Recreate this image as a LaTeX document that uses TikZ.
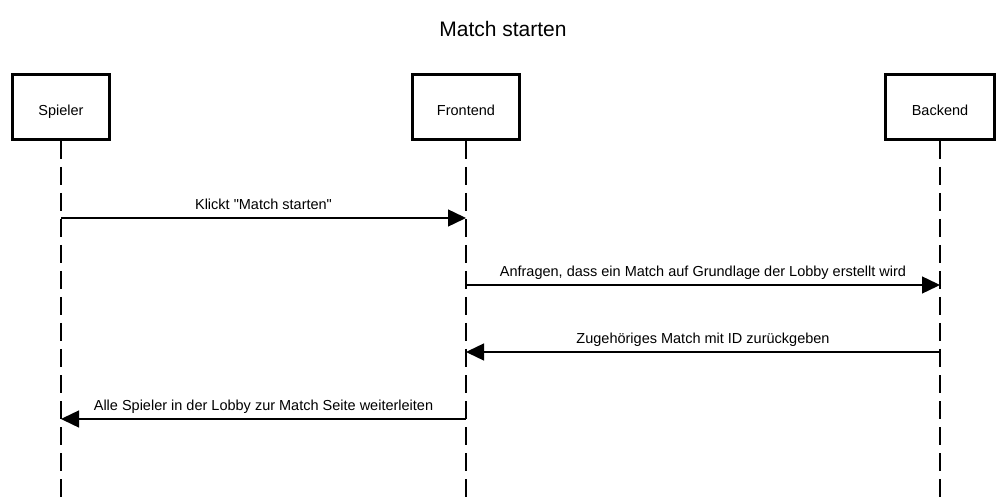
\documentclass[tikz,border=0pt]{standalone}
\usepackage{fontspec}
\setmainfont{Liberation Sans}[Ligatures=TeXOff]
\usetikzlibrary{arrows.meta}
\begin{document}
\begin{tikzpicture}[x=1pt,y=-1pt,
  actor/.style={draw,line width=3pt,minimum height=65pt,inner sep=0pt,text height=18pt,text depth=0pt,font=\fontsize{14.5}{17}\selectfont},
  lifeline/.style={line width=1.6pt,dash pattern=on 18pt off 8pt},
  msg/.style={line width=1.4pt,-{Triangle[length=18pt,width=17pt]}},
  lbl/.style={font=\fontsize{14.5}{17}\selectfont,inner sep=0pt,anchor=base}]
\useasboundingbox (0,0) rectangle (1006,502);
\node[font=\fontsize{21}{24}\selectfont] (title) at (503,29) {Match starten};
\node[actor,minimum width=97pt] (sp) at (61,107) {Spieler};
\node[actor,minimum width=107pt] (fe) at (466,107) {Frontend};
\node[actor,minimum width=109pt] (be) at (940,107) {Backend};
\coordinate (spE) at (61,502);
\coordinate (feE) at (466,502);
\coordinate (beE) at (940,502);
\draw[lifeline] (sp.south) -- (spE);
\draw[lifeline] (fe.south) -- (feE);
\draw[lifeline] (be.south) -- (beE);
\coordinate (s1) at (61,218); \coordinate (f1) at (466,218);
\coordinate (f2) at (466,285); \coordinate (b2) at (940,285);
\coordinate (b3) at (940,352); \coordinate (f3) at (466,352);
\coordinate (f4) at (466,419); \coordinate (s4) at (61,419);
\draw[msg] (s1) -- node[lbl,yshift=8.5pt] {Klickt "Match starten"} (f1);
\draw[msg] (f2) -- node[lbl,yshift=8.5pt] {Anfragen, dass ein Match auf Grundlage der Lobby erstellt wird} (b2);
\draw[msg] (b3) -- node[lbl,yshift=8.5pt] {Zugehöriges Match mit ID zurückgeben} (f3);
\draw[msg] (f4) -- node[lbl,yshift=8.5pt] {Alle Spieler in der Lobby zur Match Seite weiterleiten} (s4);
\end{tikzpicture}
\end{document}
